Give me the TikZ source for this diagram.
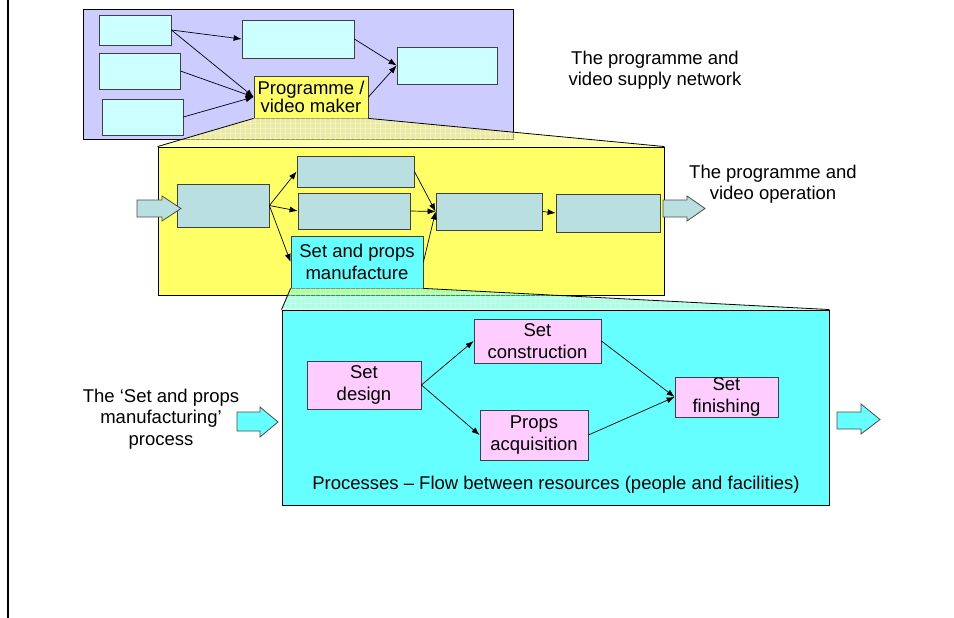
\documentclass[tikz,border=0pt]{standalone}
\usepackage{fontspec}
\setmainfont{Liberation Sans}
\usetikzlibrary{arrows.meta,patterns.meta}
\definecolor{lav}{HTML}{CCCCFF}
\definecolor{palecyan}{HTML}{CCFFFF}
\definecolor{yel}{HTML}{FFFF66}
\definecolor{gblue}{HTML}{B9DFE0}
\definecolor{cyn}{HTML}{66FFFF}
\definecolor{pnk}{HTML}{FFCCFF}
\definecolor{mint}{HTML}{66FFCC}
\begin{document}
\begin{tikzpicture}[x=1pt,y=-1pt,
  every node/.style={font=\fontsize{18.5}{21.5}\selectfont, align=center, inner sep=0pt},
  box/.style={draw=black!75, line width=0.8pt, rectangle},
  frame/.style={draw=black, line width=0.9pt, rectangle},
  arr/.style={line width=0.7pt, -{Latex[length=8pt,width=6pt]}},
  blk/.style={draw=black!70, line width=0.8pt},
  funnelside/.style={draw=black, line width=0.8pt},
  gridh/.style={pattern={Lines[distance=5pt,angle=0,line width=0.5pt]}, pattern color=white, opacity=0.35},
  gridv/.style={pattern={Lines[distance=5pt,angle=90,line width=0.5pt]}, pattern color=white, opacity=0.35}
]
\fill[white] (0,0) rectangle (954,618);
\useasboundingbox (0,0) rectangle (954,618);
\draw[line width=2.6pt] (8,0) -- (8,618);

% ---- supply network ----
\node[frame, fill=lav, minimum width=430pt, minimum height=130pt] (net) at (298,74) {};
\node[box, fill=palecyan, minimum width=72pt, minimum height=30pt] (p1) at (135,30) {};
\node[box, fill=palecyan, minimum width=81pt, minimum height=36pt] (p2) at (139.5,71) {};
\node[box, fill=palecyan, minimum width=81pt, minimum height=36pt] (p3) at (142.5,117) {};
\node[box, fill=palecyan, minimum width=112pt, minimum height=38pt] (p4) at (298,39) {};
\node[box, fill=palecyan, minimum width=100pt, minimum height=37pt] (p5) at (447,65.5) {};
\node[box, fill=yel, minimum width=114pt, minimum height=42pt, font=\fontsize{18.5}{18}\selectfont] (pvm) at (311,97) {Programme /\\video maker};
\draw[arr] (p1.east) -- (p4.west);
\draw[arr] (p1.east) -- (pvm.west);
\draw[arr] (p2.east) -- (pvm.west);
\draw[arr] (p3.east) -- (pvm.west);
\draw[arr] (p4.east) -- (p5.west);
\draw[arr] (pvm.east) -- (p5.west);
\node (t1) at (655,70) {The programme and\\video supply network};

% ---- operation ----
\node[frame, fill=yel, minimum width=506pt, minimum height=148pt] (op) at (411,221) {};
\fill[yel, opacity=0.6] (pvm.south west) -- (pvm.south east) -- (op.north east) -- (op.north west) -- cycle;
\fill[gridh] (pvm.south west) -- (pvm.south east) -- (op.north east) -- (op.north west) -- cycle;
\fill[gridv] (pvm.south west) -- (pvm.south east) -- (op.north east) -- (op.north west) -- cycle;
\draw[funnelside] (pvm.south west) -- (op.north west);
\draw[funnelside] (pvm.south east) -- (op.north east);

\node[box, fill=gblue, minimum width=92pt, minimum height=43pt] (a) at (223,205.5) {};
\node[box, fill=gblue, minimum width=117pt, minimum height=31pt] (b1) at (355.5,171.5) {};
\node[box, fill=gblue, minimum width=112pt, minimum height=36pt] (b2) at (354,211) {};
\node[box, fill=cyn, minimum width=132pt, minimum height=52pt] (spm) at (357,262) {Set and props\\manufacture};
\node[box, fill=gblue, minimum width=106pt, minimum height=37pt] (c) at (489,211.5) {};
\node[box, fill=gblue, minimum width=104pt, minimum height=38pt] (d) at (608,213) {};
\draw[arr] (a.east) -- (b1.west);
\draw[arr] (a.east) -- (b2.west);
\draw[arr] (a.east) -- (spm.west);
\draw[arr] (b1.east) -- (c.west);
\draw[arr] (b2.east) -- (c.west);
\draw[arr] (spm.east) -- (c.west);
\draw[arr] (c.east) -- (d.west);
\draw[blk, fill=gblue] (137,200) -- (162,200) -- (162,196) -- (181,208.5) -- (162,221) -- (162,217) -- (137,217) -- cycle;
\draw[blk, fill=gblue] (663,200) -- (687,200) -- (687,196) -- (705,208.5) -- (687,221) -- (687,217) -- (663,217) -- cycle;
\node (t2) at (773,184) {The programme and\\video operation};

% ---- process ----
\node[frame, fill=cyn, minimum width=547pt, minimum height=195pt] (pr) at (555.5,407.5) {};
\fill[mint, opacity=0.55] (spm.south west) -- (spm.south east) -- (pr.north east) -- (pr.north west) -- cycle;
\fill[gridh] (spm.south west) -- (spm.south east) -- (pr.north east) -- (pr.north west) -- cycle;
\fill[gridv] (spm.south west) -- (spm.south east) -- (pr.north east) -- (pr.north west) -- cycle;
\draw[funnelside] (spm.south west) -- (pr.north west);
\draw[funnelside] (spm.south east) -- (pr.north east);

\node[box, fill=pnk, minimum width=114pt, minimum height=48pt] (sd) at (364,385) {Set\\design};
\node[box, fill=pnk, minimum width=127pt, minimum height=44pt] (sc) at (537.5,341) {Set\\construction};
\node[box, fill=pnk, minimum width=108pt, minimum height=50pt] (pa) at (534,435) {Props\\acquisition};
\node[box, fill=pnk, minimum width=103pt, minimum height=40pt] (sf) at (726.5,397) {Set\\finishing};
\draw[arr] (sd.east) -- (sc.west);
\draw[arr] (sd.east) -- (pa.west);
\draw[arr] (sc.east) -- (sf.west);
\draw[arr] (pa.east) -- (sf.west);
\node (t4) at (556,485) {Processes -- Flow between resources (people and facilities)};
\draw[blk, fill=cyn] (237,412) -- (260,412) -- (260,407) -- (278,422) -- (260,437) -- (260,431) -- (237,431) -- cycle;
\draw[blk, fill=cyn] (837,412) -- (861,412) -- (861,404) -- (880,419.5) -- (861,434) -- (861,429) -- (837,429) -- cycle;
\node (t3) at (161,419) {The ‘Set and props\\manufacturing’\\process};
\end{tikzpicture}
\end{document}
